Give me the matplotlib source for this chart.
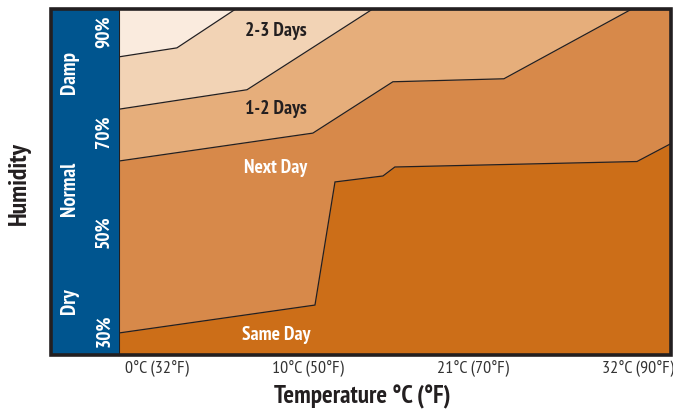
import matplotlib
matplotlib.use("Agg")
import matplotlib.pyplot as plt
from matplotlib.patches import Rectangle

plt.rcParams['font.family'] = ['PT Sans Narrow', 'DejaVu Sans']

# ---- data (temperature in °C, relative humidity in %) ----
same_day_top_t = [-2.53, 10.50, 11.83, 15.02, 15.81, 31.91, 34.17]
same_day_top_h = [29.6, 35.2, 59.9, 61.1, 62.9, 64.0, 67.6]

next_day_top_t = [-2.53, 10.36, 15.68, 23.06, 31.51, 34.17]
next_day_top_h = [64.1, 69.7, 80.0, 80.6, 94.5, 94.5]

one_two_top_t = [-2.53, 5.98, 14.29, 34.17]
one_two_top_h = [74.5, 78.4, 94.5, 94.5]

two_three_top_t = [-2.53, 1.32, 5.18, 34.17]
two_three_top_h = [85.0, 86.8, 94.5, 94.5]

region_labels = ["2-3 Days", "1-2 Days", "Next Day", "Same Day"]
temp_ticks = [0, 10, 21, 32]
temp_labels = ["0°C (32°F)", "10°C (50°F)", "21°C (70°F)", "32°C (90°F)"]
hum_ticks = [30, 50, 70, 90]
hum_labels = ["30%", "50%", "70%", "90%"]
hum_cats = ["Dry", "Normal", "Damp"]

# ---- style ----
c_top = "#FAEBDE"
c_23 = "#F2D3B5"
c_12 = "#E6AE7B"
c_next = "#D7894A"
c_same = "#CC6E18"
c_blue = "#00558F"
c_dark = "#231F20"

W, H = 673, 411
def fr(x0, y0, x1, y1):
    return [x0 / W, 1 - y1 / H, (x1 - x0) / W, (y1 - y0) / H]

fig = plt.figure(figsize=(W / 100, H / 100), dpi=100)
ax = fig.add_axes(fr(119, 9.5, 671, 355))
axb = fig.add_axes(fr(51, 9.5, 119, 355))

xmin, xmax = -2.53, 34.17
ymin, ymax = 25.18, 94.5
ax.set_xlim(xmin, xmax)
ax.set_ylim(ymin, ymax)
axb.set_ylim(ymin, ymax)
axb.set_xlim(0, 1)

ax.set_facecolor(c_top)
layers = [
    (two_three_top_t, two_three_top_h, c_23),
    (one_two_top_t, one_two_top_h, c_12),
    (next_day_top_t, next_day_top_h, c_next),
    (same_day_top_t, same_day_top_h, c_same),
]
for t, h, c in layers:
    ax.fill_between(t, h, ymin - 5, color=c, lw=0, zorder=1)
for t, h, c in layers:
    ax.plot(t, h, color=c_dark, lw=0.9, zorder=2, solid_joinstyle='miter')

# region labels
lab_pos = [(0.284, 0.939), (0.284, 0.711), (0.284, 0.542), (0.284, 0.058)]
lab_col = [c_dark, c_dark, "white", "white"]
for s, (x, y), c in zip(region_labels, lab_pos, lab_col):
    ax.text(x, y, s, transform=ax.transAxes, ha='center', va='center',
            fontsize=14, fontweight='bold', color=c, zorder=3)

# axes styling
for sp in ['top', 'right', 'bottom']:
    ax.spines[sp].set_visible(False)
ax.spines['left'].set_color(c_dark)
ax.spines['left'].set_linewidth(1.5)
ax.set_yticks([])
ax.set_xticks(temp_ticks, temp_labels)
ax.tick_params(axis='x', length=0, pad=3.5, labelsize=13, labelcolor="#333333")

axb.set_facecolor(c_blue)
axb.set_xticks([])
axb.set_yticks([])
for sp in axb.spines.values():
    sp.set_visible(False)
ytr = axb.get_yaxis_transform()
for v, s in zip(hum_ticks, hum_labels):
    axb.text(0.78, v, s, transform=ytr, rotation=90, ha='center', va='center',
             fontsize=14, fontweight='bold', color='white')
cat_pos = [0.157, 0.481, 0.819]
for s, y in zip(hum_cats, cat_pos):
    axb.text(0.27, y, s, transform=axb.transAxes, rotation=90, ha='center',
             va='center', fontsize=15, fontweight='bold', color='white')

# outer frame
fig.add_artist(Rectangle((51 / W, 1 - 355 / H), (671 - 51) / W, (355 - 9.5) / H,
                         transform=fig.transFigure, fill=False,
                         edgecolor=c_dark, lw=2.6, zorder=10))

fig.text(362 / W, 1 - 397 / H, "Temperature °C (°F)", ha='center', va='center',
         fontsize=18, fontweight='bold', color=c_dark)
fig.text(19 / W, 1 - 184 / H, "Humidity", rotation=90, ha='center', va='center',
         fontsize=18.5, fontweight='bold', color=c_dark)

fig.savefig("out.png", dpi=100)
